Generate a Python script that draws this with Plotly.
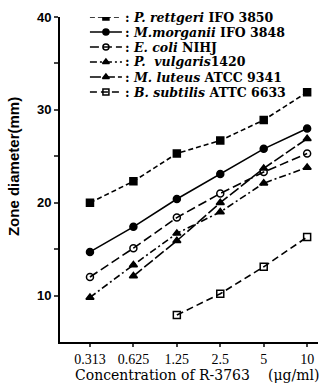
import plotly.graph_objects as go

conc_labels = ["0.313", "0.625", "1.25", "2.5", "5", "10"]
pos = [0, 1, 2, 3, 4, 5]

rettgeri = [20.0, 22.3, 25.3, 26.7, 28.9, 31.9]
morganii = [14.7, 17.4, 20.4, 23.1, 25.8, 28.0]
ecoli = [12.0, 15.1, 18.4, 21.0, 23.3, 25.3]
vulgaris = [9.8, 13.3, 16.7, 19.0, 22.1, 23.8]
luteus = [None, 12.1, 15.9, 20.0, 23.7, 26.9]
subtilis = [None, None, 7.9, 10.2, 13.1, 16.3]

names = [
    ": <i>P. rettgeri</i> IFO 3850",
    ": <i>M.morganii</i> IFO 3848",
    ": <i>E. coli</i> NIHJ",
    ": <i>P.  vulgaris</i>1420",
    ": <i>M. luteus</i> ATCC 9341",
    ": <i>B. subtilis</i> ATTC 6633",
]

styles = [
    (rettgeri, "5px,3px", "square"),
    (morganii, "solid", "circle"),
    (ecoli, "9px,4px", "circle-open"),
    (vulgaris, "7px,3px,2px,3px", "triangle-up"),
    (luteus, "11px,3px", "triangle-up"),
    (subtilis, "7px,4px", "square-open"),
]

fig = go.Figure()
for (vals, dash, sym), nm in zip(styles, names):
    fig.add_trace(go.Scatter(
        x=pos, y=vals, name=nm, mode="lines+markers", showlegend=False,
        line=dict(color="black", width=1.6, dash=dash),
        marker=dict(symbol=sym, size=7, color="black",
                    line=dict(color="black", width=1.5)),
        connectgaps=False,
    ))

# hand-built legend (keys drawn on an overlay axis spanning the plot area)
row_step = 15 / 325
annotations = []
for i, ((vals, dash, sym), nm) in enumerate(zip(styles, names)):
    yy = 1.0 - i * row_step
    fig.add_trace(go.Scatter(
        x=[0.116, 0.178, 0.240], y=[yy, yy, yy], xaxis="x2", yaxis="y2",
        mode="lines", showlegend=False, hoverinfo="skip",
        line=dict(color="black", width=1.6, dash=dash),
    ))
    fig.add_trace(go.Scatter(
        x=[0.178], y=[yy], xaxis="x2", yaxis="y2",
        mode="markers", showlegend=False, hoverinfo="skip",
        marker=dict(symbol=sym, size=6, color="black",
                    line=dict(color="black", width=1.5)),
    ))
    annotations.append(dict(
        text=nm, xref="paper", yref="paper", x=0.245, y=yy,
        xanchor="left", yanchor="middle", showarrow=False,
        font=dict(family="DejaVu Serif", size=12.5, weight="bold"),
    ))

annotations += [
    dict(text="Zone diameter(mm)", xref="paper", yref="paper",
         x=-0.18, xanchor="center", y=0.54, showarrow=False, textangle=-90,
         font=dict(family="Liberation Sans", size=15, weight="bold")),
    dict(text="Concentration of R-3763", xref="paper", yref="paper",
         x=0.05, y=-0.102, xanchor="left", yanchor="middle", showarrow=False,
         font=dict(family="DejaVu Serif", size=14)),
    dict(text="(\u03bcg/ml)", xref="paper", yref="paper",
         x=1.01, y=-0.102, xanchor="right", yanchor="middle", showarrow=False,
         font=dict(family="DejaVu Serif", size=14)),
]

fig.update_layout(
    width=320, height=386,
    margin=dict(l=60, r=2, t=17, b=44),
    paper_bgcolor="white", plot_bgcolor="white",
    font=dict(family="Liberation Serif", size=13, color="black"),
    showlegend=False,
    xaxis=dict(range=[-0.69, 5.25], tickvals=pos, ticktext=conc_labels,
               showgrid=False, zeroline=False, showline=True,
               linecolor="black", linewidth=2, ticks="outside",
               ticklen=3, tickwidth=1.5,
               tickfont=dict(family="Liberation Serif", size=14)),
    yaxis=dict(range=[5, 40], tickvals=[10, 15, 20, 25, 30, 35, 40],
               ticktext=["10", "", "20", "", "30", "", "40"],
               showgrid=False, zeroline=False, showline=True,
               linecolor="black", linewidth=2, ticks="outside",
               ticklen=4, tickwidth=1.5,
               tickfont=dict(family="Liberation Sans", size=13, weight="bold")),
    xaxis2=dict(range=[0, 1], domain=[0, 1], overlaying="x", visible=False,
                fixedrange=True),
    yaxis2=dict(range=[0, 1], domain=[0, 1], overlaying="y", visible=False,
                fixedrange=True, anchor="x2"),
    annotations=annotations,
)

fig.write_html("out.html", post_script="document.body.style.margin='0px';",
               config={"displayModeBar": False})
